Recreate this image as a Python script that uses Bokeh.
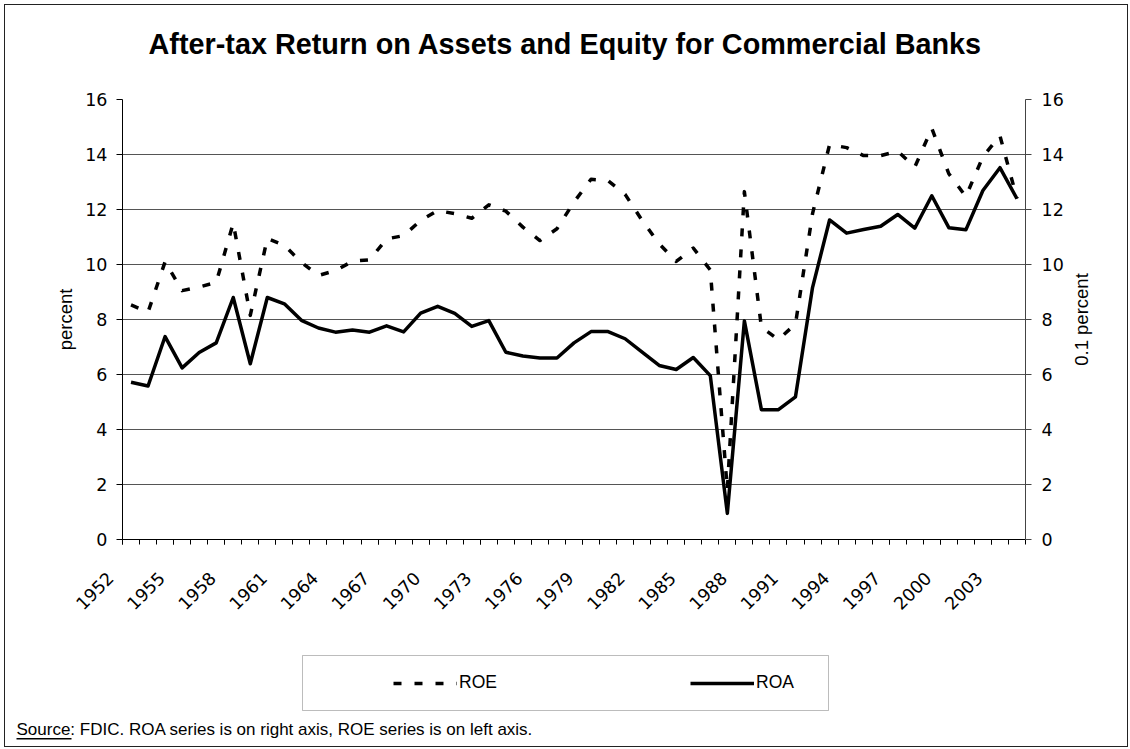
import math
from bokeh.plotting import figure
from bokeh.layouts import column, row
from bokeh.models import (Range1d, LinearAxis, FixedTicker, Legend, LegendItem, Label,
                          BoxAnnotation, ColumnDataSource)
from bokeh.embed import file_html
from bokeh.resources import INLINE

# ---------------- data ----------------
years = [1952, 1953, 1954, 1955, 1956, 1957, 1958, 1959, 1960, 1961,
         1962, 1963, 1964, 1965, 1966, 1967, 1968, 1969, 1970, 1971,
         1972, 1973, 1974, 1975, 1976, 1977, 1978, 1979, 1980, 1981,
         1982, 1983, 1984, 1985, 1986, 1987, 1988, 1989, 1990, 1991,
         1992, 1993, 1994, 1995, 1996, 1997, 1998, 1999, 2000, 2001,
         2002, 2003, 2004]

# ROE, percent (left axis)
roe = [8.53, 8.27, 10.10, 9.05, 9.18, 9.35, 11.50, 8.15, 10.95, 10.70,
       10.08, 9.60, 9.78, 10.12, 10.17, 10.93, 11.05, 11.60, 11.96, 11.85,
       11.68, 12.17, 11.94, 11.36, 10.87, 11.30, 12.27, 13.10, 13.05, 12.55,
       11.60, 10.75, 10.11, 10.60, 9.80, 1.80, 12.65, 7.72, 7.27, 7.84,
       11.85, 14.36, 14.25, 13.96, 13.96, 14.12, 13.54, 14.95, 13.30, 12.47,
       13.92, 14.68, 12.40]

# ROA, 0.1 percent (right axis)
roa = [5.72, 5.58, 7.38, 6.24, 6.80, 7.15, 8.80, 6.39, 8.80, 8.57,
       7.97, 7.69, 7.54, 7.62, 7.54, 7.77, 7.55, 8.23, 8.48, 8.22,
       7.75, 7.96, 6.81, 6.67, 6.60, 6.60, 7.15, 7.56, 7.56, 7.30,
       6.81, 6.33, 6.18, 6.62, 5.96, 0.95, 7.95, 4.72, 4.72, 5.19,
       9.16, 11.62, 11.14, 11.27, 11.39, 11.82, 11.32, 12.50, 11.34, 11.26,
       12.69, 13.52, 12.39]

y_ticks = [0, 2, 4, 6, 8, 10, 12, 14, 16]
label_years = years[::3]

title_text = "After-tax Return on Assets and Equity for Commercial Banks"
left_label = "percent"
right_label = "0.1 percent"
source_text = "Source: FDIC. ROA series is on right axis, ROE series is on left axis."
series_names = ["ROE", "ROA"]

# ---------------- layout (pixels) ----------------
W = 1122                 # canvas width (inside 4px margin + 1px border)
HT = 84                  # title strip
FL, FT, FW, FH = 117, 10, 903, 440
FB = 101                 # below frame: x axis and its labels
H1 = FT + FH + FB        # chart canvas height
H2 = 106                 # legend/source strip
RB = 43                  # right border of chart (right axis ticks + labels)
WP = FL + FW + RB        # chart canvas width
WR = W - WP              # strip carrying the right axis title
TICK_FONT = "DejaVu Sans"
TEXT_FONT = "Liberation Sans"
LABEL_PAD = "   "        # trailing pad: pulls the rotated year labels left of their tick

n = len(years)
xpos = [yr - years[0] for yr in years]
x_start, x_end = -0.5, n - 0.5
y_min, y_max = y_ticks[0], y_ticks[-1]


def strip(width, height):
    f = figure(width=width, height=height, x_range=Range1d(0, width),
               y_range=Range1d(0, height), min_border=0, title=None,
               x_axis_location=None, y_axis_location=None,
               output_backend="svg", toolbar_location=None,
               background_fill_color="white", border_fill_color="white",
               outline_line_color=None)
    f.grid.visible = False
    return f


# ---------------- title strip ----------------
t = strip(W, HT)
t.add_layout(Label(x=143, y=HT - 38, text=title_text, text_align="left",
                   text_baseline="middle", text_font=TEXT_FONT, text_font_style="bold",
                   text_font_size="28.8px", text_color="black"))

# ---------------- chart ----------------
p = figure(x_range=Range1d(x_start, x_end), y_range=Range1d(y_min, y_max),
           frame_width=FW, frame_height=FH, title=None,
           min_border_left=FL, min_border_right=RB,
           min_border_top=FT, min_border_bottom=FB,
           output_backend="svg", toolbar_location=None,
           background_fill_color="white", border_fill_color="white",
           outline_line_color=None)
p.extra_y_ranges = {"roa": Range1d(y_min, y_max)}

# grid
p.xgrid.visible = False
p.ygrid.ticker = FixedTicker(ticks=y_ticks)
p.ygrid.grid_line_color = "#555555"
p.ygrid.grid_line_width = 1

# left axis
ya = p.yaxis[0]
ya.ticker = FixedTicker(ticks=y_ticks)
ya.axis_line_color = "black"
ya.major_tick_line_color = "black"
ya.major_tick_in = 0
ya.major_tick_out = 6
ya.minor_tick_line_color = None
ya.major_label_standoff = 9
ya.major_label_text_font = TICK_FONT
ya.major_label_text_font_size = "17.5px"
ya.major_label_text_color = "black"
ya.axis_label = left_label
ya.axis_label_standoff = 6
ya.axis_label_text_font = TEXT_FONT
ya.axis_label_text_font_style = "normal"
ya.axis_label_text_font_size = "18.5px"
ya.axis_label_text_color = "black"

# right axis
yb = LinearAxis(y_range_name="roa", ticker=FixedTicker(ticks=y_ticks))
yb.axis_line_color = "#444444"
yb.major_tick_line_color = "#444444"
yb.major_tick_in = 0
yb.major_tick_out = 6
yb.minor_tick_line_color = None
yb.major_label_standoff = 10
yb.major_label_text_font = TICK_FONT
yb.major_label_text_font_size = "17.5px"
yb.major_label_text_color = "black"
p.add_layout(yb, "right")

# bottom axis: ticks at category boundaries, year labels every third category
boundaries = [i - 0.5 for i in range(n + 1)]
lab_ticks = [years.index(yr) - 0.5 for yr in label_years]
xa = p.xaxis[0]
xa.ticker = FixedTicker(ticks=lab_ticks, minor_ticks=boundaries)
xa.major_label_overrides = {tk: str(yr) + LABEL_PAD for tk, yr in zip(lab_ticks, label_years)}
xa.axis_line_color = "black"
xa.major_tick_line_color = "black"
xa.minor_tick_line_color = "black"
xa.major_tick_in = 0
xa.major_tick_out = 5
xa.minor_tick_in = 0
xa.minor_tick_out = 5
xa.major_label_orientation = math.pi / 4
xa.major_label_standoff = 19
xa.major_label_text_font = TICK_FONT
xa.major_label_text_font_size = "17.5px"
xa.major_label_text_color = "black"

# series
src = ColumnDataSource(dict(x=xpos, roe=roe, roa=roa))
ROE_STYLE = dict(line_color="black", line_width=3.5, line_dash="8 13", line_join="round")
ROA_STYLE = dict(line_color="black", line_width=3.5, line_join="round")
p.line("x", "roe", source=src, **ROE_STYLE)
p.line("x", "roa", source=src, y_range_name="roa", **ROA_STYLE)

# ---------------- right axis title strip ----------------
r = strip(WR, H1)
r.add_layout(Label(x=12.5, y=H1 - (FT + FH / 2), text=right_label, angle=math.pi / 2,
                   text_align="center", text_baseline="middle", text_font=TEXT_FONT,
                   text_font_size="18.5px", text_color="black"))

# ---------------- legend + source strip ----------------
q = strip(W, H2)

# renderers that only feed the legend glyphs
q_roe = q.line("x", "roe", source=src, visible=False, **ROE_STYLE)
q_roa = q.line("x", "roa", source=src, visible=False, **ROA_STYLE)

# legend box
q.add_layout(BoxAnnotation(left=297, right=823, top=91, bottom=36,
                           fill_color="white", fill_alpha=1,
                           line_color="#222222", line_width=1))
legend = Legend(items=[LegendItem(label=series_names[0], renderers=[q_roe]),
                       LegendItem(label=series_names[1], renderers=[q_roa])],
                orientation="horizontal", location=(388, 53), padding=0, margin=0,
                spacing=191, glyph_width=64, glyph_height=20, label_width=40,
                label_height=20, label_standoff=2, border_line_color=None,
                background_fill_alpha=0, label_text_font=TEXT_FONT,
                label_text_font_size="17.5px", label_text_color="black")
q.add_layout(legend, "center")

q.add_layout(Label(x=11, y=17, text=source_text, text_align="left",
                   text_baseline="middle", text_font=TEXT_FONT,
                   text_font_size="17px", text_color="black"))
q.add_layout(BoxAnnotation(left=11, right=66, top=8.5, bottom=7,
                           fill_color="black", fill_alpha=1, line_color=None))

for fig in (t, p, r, q):
    if "frame_align" in fig.properties():
        fig.frame_align = False

layout = column(t, row(p, r, spacing=0), q, spacing=0,
                styles={"margin": "4px", "border": "1px solid #222222"})

open("out.html", "w").write(file_html(layout, INLINE))
